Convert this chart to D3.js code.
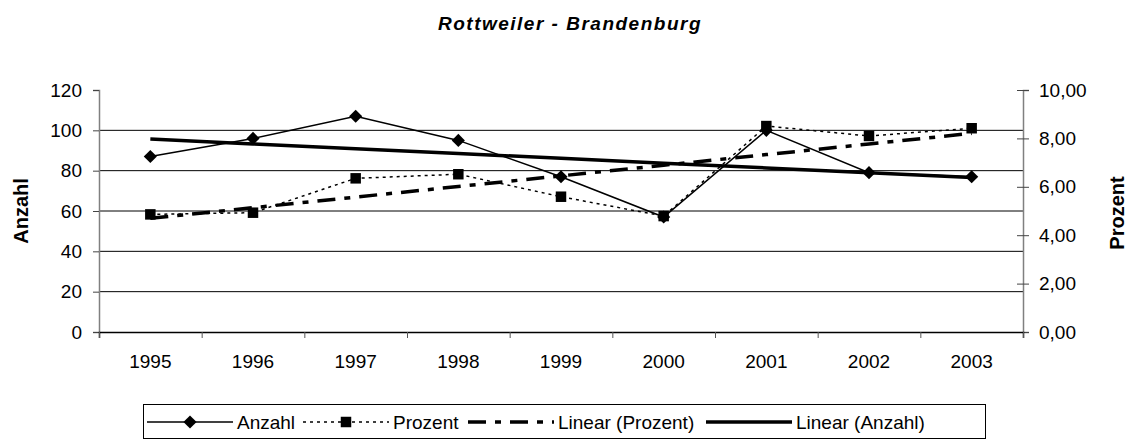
<!DOCTYPE html>
<html>
<head>
<meta charset="utf-8">
<script src="https://cdn.jsdelivr.net/npm/d3@7"></script>
<style>
  body { margin: 0; background: #fff; }
  text { font-family: "Liberation Sans", Arial, sans-serif; fill: #000; }
</style>
</head>
<body>
<svg id="chart" width="1131" height="446"></svg>
<script>
const svg = d3.select('#chart');

// data
const years = ['1995', '1996', '1997', '1998', '1999', '2000', '2001', '2002', '2003'];
const anzahl = [87, 96, 107, 95, 77, 57, 100, 79, 77];
const prozent = [4.86, 4.93, 6.35, 6.52, 5.59, 4.79, 8.51, 8.10, 8.42];
const leftTicks = [0, 20, 40, 60, 80, 100, 120];
const rightTicks = [0, 2, 4, 6, 8, 10];
const legendLabels = ['Anzahl', 'Prozent', 'Linear (Prozent)', 'Linear (Anzahl)'];

const plot = { left: 99, right: 1023, top: 90, bottom: 332 };

const de = d3.formatLocale({ decimal: ',', thousands: '.', grouping: [3], currency: ['', '€'] });
const fmt2 = de.format('.2f');

const x = d3.scaleBand().domain(years).range([plot.left, plot.right]);
const xc = d => x(d) + x.bandwidth() / 2;
const xEdge = d3.scaleLinear().domain([0, years.length]).range([plot.left, plot.right]);
const yL = d3.scaleLinear().domain([0, 120]).range([plot.bottom, plot.top]);
const yR = d3.scaleLinear().domain([0, 10]).range([plot.bottom, plot.top]);

// least squares trend, like the spreadsheet's "Linear" trendline
function trend(vals) {
  const n = vals.length;
  const mx = (n - 1) / 2;
  const my = d3.mean(vals);
  let sxy = 0, sxx = 0;
  vals.forEach((v, i) => { sxy += (i - mx) * (v - my); sxx += (i - mx) * (i - mx); });
  const b = sxy / sxx;
  return vals.map((v, i) => my + b * (i - mx));
}
const trendAnzahl = trend(anzahl);
const trendProzent = trend(prozent);

// title
svg.append('text')
  .attr('x', 570).attr('y', 30)
  .attr('text-anchor', 'middle')
  .style('font-size', '19px').style('font-weight', 'bold').style('font-style', 'italic')
  .style('letter-spacing', '1.5px')
  .text('Rottweiler - Brandenburg');

// gridlines
svg.append('g').selectAll('line')
  .data(leftTicks.filter(d => d > 0 && d < 120))
  .join('line')
  .attr('x1', plot.left).attr('x2', plot.right)
  .attr('y1', d => yL(d)).attr('y2', d => yL(d))
  .attr('stroke', '#000').attr('stroke-width', 1);

// left axis
const gL = svg.append('g').attr('transform', `translate(${plot.left},0)`)
  .call(d3.axisLeft(yL).tickValues(leftTicks).tickSize(6).tickPadding(11));
gL.select('.domain').attr('stroke', '#808080').attr('stroke-width', 1.5);
gL.selectAll('.tick line').attr('stroke', '#444');
gL.selectAll('.tick text').style('font-size', '19px').style('font-family', '"Liberation Sans", Arial, sans-serif');

// right axis
const gR = svg.append('g').attr('transform', `translate(${plot.right},0)`)
  .call(d3.axisRight(yR).tickValues(rightTicks).tickSize(6).tickPadding(10).tickFormat(fmt2));
gR.select('.domain').attr('stroke', '#808080').attr('stroke-width', 1.5);
gR.selectAll('.tick line').attr('x1', -6).attr('stroke', '#444');
gR.selectAll('.tick text').style('font-size', '19px').style('font-family', '"Liberation Sans", Arial, sans-serif');

// bottom axis
const gB = svg.append('g').attr('transform', `translate(0,${plot.bottom})`)
  .call(d3.axisBottom(xEdge).tickValues(d3.range(years.length + 1)).tickSize(6).tickFormat(''));
gB.select('.domain').attr('stroke', '#000').attr('stroke-width', 1.5);
gB.selectAll('.tick line').attr('stroke', '#555');

svg.append('g').selectAll('text')
  .data(years)
  .join('text')
  .attr('x', d => xc(d)).attr('y', 368)
  .attr('text-anchor', 'middle')
  .style('font-size', '19px')
  .text(d => d);

// axis titles
svg.append('text')
  .attr('transform', 'translate(28,211) rotate(-90)')
  .attr('text-anchor', 'middle')
  .style('font-size', '20px').style('font-weight', 'bold')
  .text('Anzahl');
svg.append('text')
  .attr('transform', 'translate(1124,213) rotate(-90)')
  .attr('text-anchor', 'middle')
  .style('font-size', '20px').style('font-weight', 'bold')
  .text('Prozent');

// series
const lineL = d3.line().x((d, i) => xc(years[i])).y(d => yL(d));
const lineR = d3.line().x((d, i) => xc(years[i])).y(d => yR(d));

svg.append('path').datum(trendProzent)
  .attr('d', lineR).attr('fill', 'none')
  .attr('stroke', '#000').attr('stroke-width', 3.5)
  .attr('stroke-dasharray', '18,9,6,9');

svg.append('path').datum(prozent)
  .attr('d', lineR).attr('fill', 'none')
  .attr('stroke', '#000').attr('stroke-width', 1.5)
  .attr('stroke-dasharray', '3,4');

svg.append('path').datum(anzahl)
  .attr('d', lineL).attr('fill', 'none')
  .attr('stroke', '#000').attr('stroke-width', 1.5);

svg.append('path').datum(trendAnzahl)
  .attr('d', lineL).attr('fill', 'none')
  .attr('stroke', '#000').attr('stroke-width', 3.5);

const diamond = d3.symbol().type(d3.symbolDiamond2).size(110);
const square = d3.symbol().type(d3.symbolSquare).size(110);

svg.append('g').selectAll('path')
  .data(prozent)
  .join('path')
  .attr('transform', (d, i) => `translate(${xc(years[i])},${yR(d)})`)
  .attr('d', square).attr('fill', '#000');

svg.append('g').selectAll('path')
  .data(anzahl)
  .join('path')
  .attr('transform', (d, i) => `translate(${xc(years[i])},${yL(d)})`)
  .attr('d', diamond).attr('fill', '#000');

// legend
const legend = svg.append('g');
legend.append('rect')
  .attr('x', 143.5).attr('y', 404.5).attr('width', 842).attr('height', 34)
  .attr('fill', '#fff').attr('stroke', '#000').attr('stroke-width', 1);

const legendStyles = [
  { dash: null, w: 1.5, marker: diamond },
  { dash: '3,4', w: 1.5, marker: square },
  { dash: '18,9,6,9', w: 3.5, marker: null },
  { dash: null, w: 3.5, marker: null }
];
const legendX = [147, 303, 468, 706];
const ly = 422;
legendLabels.forEach((lab, i) => {
  const s = legendStyles[i];
  const x0 = legendX[i];
  legend.append('line')
    .attr('x1', x0).attr('x2', x0 + 86).attr('y1', ly).attr('y2', ly)
    .attr('stroke', '#000').attr('stroke-width', s.w)
    .attr('stroke-dasharray', s.dash);
  if (s.marker) {
    legend.append('path')
      .attr('transform', `translate(${x0 + 43},${ly})`)
      .attr('d', s.marker).attr('fill', '#000');
  }
  legend.append('text')
    .attr('x', x0 + 90).attr('y', ly + 7)
    .style('font-size', '19px')
    .text(lab);
});
</script>
</body>
</html>
